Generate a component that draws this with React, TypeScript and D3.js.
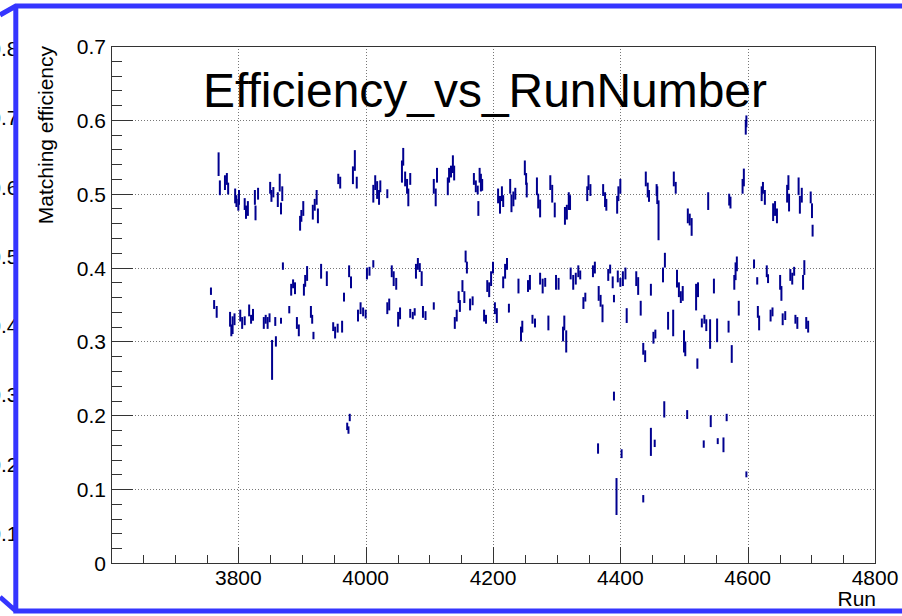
import React from "react";
import * as d3 from "d3";

// Each entry: [run number, matching efficiency, error]
const upperBand: [number, number, number][] = [
  [3769, 0.540, 0.016], [3771, 0.508, 0.010], [3779, 0.515, 0.010], [3782, 0.520, 0.008], [3784, 0.507, 0.008],
  [3795, 0.497, 0.010], [3797, 0.490, 0.008], [3800, 0.485, 0.008], [3801, 0.495, 0.010],
  [3810, 0.486, 0.008], [3812, 0.475, 0.009], [3815, 0.480, 0.010], [3826, 0.495, 0.010], [3827, 0.474, 0.010],
  [3831, 0.500, 0.008], [3850, 0.508, 0.008], [3852, 0.497, 0.008], [3855, 0.502, 0.007],
  [3862, 0.492, 0.010], [3865, 0.515, 0.012], [3867, 0.480, 0.008], [3869, 0.500, 0.010],
  [3897, 0.460, 0.010], [3899, 0.470, 0.008], [3902, 0.480, 0.010],
  [3917, 0.475, 0.010], [3920, 0.485, 0.008], [3923, 0.495, 0.010], [3925, 0.470, 0.010],
  [3957, 0.520, 0.007], [3960, 0.515, 0.008],
  [3980, 0.525, 0.012], [3983, 0.545, 0.014], [3986, 0.515, 0.008],
  [4012, 0.500, 0.012], [4015, 0.515, 0.010], [4018, 0.505, 0.012], [4021, 0.495, 0.010], [4023, 0.510, 0.008],
  [4034, 0.500, 0.006],
  [4057, 0.530, 0.015], [4059, 0.550, 0.012], [4062, 0.520, 0.010], [4065, 0.510, 0.010], [4067, 0.495, 0.012], [4070, 0.520, 0.008],
  [4107, 0.510, 0.010], [4110, 0.495, 0.012], [4112, 0.525, 0.010],
  [4129, 0.510, 0.012], [4131, 0.525, 0.010], [4134, 0.530, 0.008], [4137, 0.540, 0.012], [4139, 0.528, 0.010],
  [4170, 0.520, 0.008], [4173, 0.510, 0.008], [4176, 0.505, 0.006], [4177, 0.480, 0.010], [4179, 0.525, 0.010], [4181, 0.515, 0.012], [4183, 0.512, 0.008],
  [4208, 0.497, 0.010], [4211, 0.485, 0.012], [4214, 0.500, 0.010], [4216, 0.490, 0.008],
  [4227, 0.510, 0.010], [4229, 0.487, 0.012], [4232, 0.493, 0.010], [4235, 0.500, 0.008],
  [4250, 0.535, 0.010], [4252, 0.520, 0.008], [4253, 0.505, 0.010],
  [4269, 0.510, 0.012], [4271, 0.490, 0.010], [4274, 0.480, 0.012],
  [4290, 0.515, 0.010], [4293, 0.500, 0.012], [4297, 0.478, 0.010],
  [4313, 0.470, 0.012], [4316, 0.475, 0.010], [4319, 0.490, 0.012], [4321, 0.488, 0.010],
  [4348, 0.500, 0.010], [4350, 0.515, 0.010], [4353, 0.505, 0.008],
  [4373, 0.505, 0.008], [4376, 0.492, 0.010], [4378, 0.485, 0.008],
  [4395, 0.485, 0.012], [4397, 0.500, 0.010], [4400, 0.510, 0.010],
  [4440, 0.520, 0.010], [4443, 0.505, 0.010], [4445, 0.497, 0.008],
  [4457, 0.505, 0.008], [4458, 0.498, 0.012], [4460, 0.464, 0.027],
  [4484, 0.520, 0.010], [4487, 0.508, 0.008],
  [4506, 0.470, 0.010], [4509, 0.465, 0.008], [4512, 0.455, 0.012],
  [4538, 0.490, 0.012], [4571, 0.492, 0.008], [4573, 0.488, 0.008],
  [4592, 0.510, 0.010], [4594, 0.522, 0.012], [4597, 0.590, 0.010], [4598, 0.598, 0.008],
  [4622, 0.500, 0.010], [4624, 0.508, 0.008], [4627, 0.495, 0.010],
  [4640, 0.475, 0.012], [4643, 0.480, 0.010], [4646, 0.470, 0.010],
  [4662, 0.500, 0.012], [4664, 0.515, 0.010], [4665, 0.488, 0.012],
  [4680, 0.510, 0.012], [4682, 0.485, 0.012], [4685, 0.498, 0.010],
  [4699, 0.495, 0.008], [4701, 0.477, 0.010], [4702, 0.450, 0.008],
];

const lowerBand: [number, number, number][] = [
  [3757, 0.368, 0.005], [3762, 0.350, 0.006], [3766, 0.340, 0.008],
  [3787, 0.330, 0.010], [3789, 0.315, 0.008], [3791, 0.322, 0.012], [3794, 0.330, 0.008],
  [3803, 0.335, 0.008], [3806, 0.325, 0.008], [3810, 0.328, 0.006],
  [3817, 0.342, 0.008], [3820, 0.330, 0.006], [3823, 0.336, 0.008],
  [3840, 0.325, 0.008], [3843, 0.330, 0.006], [3846, 0.325, 0.008], [3849, 0.332, 0.006],
  [3853, 0.275, 0.027], [3858, 0.327, 0.006], [3859, 0.300, 0.007], [3867, 0.328, 0.004], [3870, 0.402, 0.005],
  [3880, 0.343, 0.005], [3883, 0.370, 0.008], [3886, 0.378, 0.006], [3889, 0.372, 0.008],
  [3892, 0.325, 0.008], [3895, 0.315, 0.008],
  [3903, 0.370, 0.008], [3905, 0.382, 0.008], [3908, 0.392, 0.010],
  [3914, 0.340, 0.008], [3916, 0.330, 0.006], [3918, 0.308, 0.005],
  [3930, 0.395, 0.010], [3939, 0.385, 0.010],
  [3949, 0.320, 0.006], [3952, 0.312, 0.008], [3956, 0.318, 0.006], [3963, 0.320, 0.008], [3966, 0.360, 0.006],
  [3974, 0.395, 0.008], [3977, 0.380, 0.008],
  [3988, 0.335, 0.008], [3992, 0.345, 0.008], [3996, 0.340, 0.006], [4000, 0.337, 0.006],
  [4002, 0.392, 0.008], [4006, 0.395, 0.006], [4012, 0.405, 0.005],
  [4034, 0.345, 0.008], [4037, 0.350, 0.008],
  [4041, 0.395, 0.008], [4044, 0.385, 0.010], [4048, 0.378, 0.008],
  [4051, 0.330, 0.010], [4054, 0.338, 0.008],
  [4070, 0.338, 0.006], [4074, 0.335, 0.005], [4077, 0.340, 0.005],
  [4079, 0.395, 0.010], [4082, 0.405, 0.008], [4085, 0.400, 0.006], [4088, 0.385, 0.010],
  [4090, 0.340, 0.008], [4094, 0.335, 0.006], [4107, 0.348, 0.005],
  [4140, 0.325, 0.008], [4143, 0.335, 0.008], [4146, 0.360, 0.008], [4148, 0.348, 0.008],
  [4152, 0.375, 0.008], [4155, 0.360, 0.008], [4157, 0.415, 0.008], [4159, 0.400, 0.008],
  [4164, 0.350, 0.008], [4168, 0.355, 0.006],
  [4186, 0.335, 0.008], [4189, 0.330, 0.006],
  [4191, 0.375, 0.008], [4194, 0.370, 0.010], [4197, 0.385, 0.010], [4200, 0.400, 0.008],
  [4203, 0.345, 0.008], [4206, 0.335, 0.010],
  [4216, 0.380, 0.008], [4219, 0.395, 0.010], [4222, 0.405, 0.008], [4225, 0.345, 0.006],
  [4240, 0.375, 0.010], [4244, 0.310, 0.010], [4246, 0.320, 0.008],
  [4255, 0.375, 0.008], [4258, 0.380, 0.010], [4262, 0.330, 0.006], [4266, 0.325, 0.006],
  [4274, 0.385, 0.008], [4278, 0.375, 0.010], [4282, 0.380, 0.006], [4287, 0.325, 0.010],
  [4299, 0.380, 0.010], [4303, 0.378, 0.008],
  [4310, 0.310, 0.010], [4312, 0.325, 0.010], [4315, 0.300, 0.015],
  [4322, 0.392, 0.008], [4326, 0.380, 0.010], [4330, 0.385, 0.008], [4334, 0.395, 0.008], [4337, 0.390, 0.006],
  [4342, 0.352, 0.008], [4345, 0.360, 0.006],
  [4357, 0.395, 0.008], [4360, 0.400, 0.008],
  [4366, 0.365, 0.010], [4369, 0.355, 0.008], [4372, 0.338, 0.012],
  [4381, 0.390, 0.008], [4384, 0.398, 0.006], [4388, 0.380, 0.008], [4390, 0.358, 0.005],
  [4396, 0.388, 0.008], [4400, 0.380, 0.006], [4404, 0.385, 0.010], [4408, 0.392, 0.008], [4410, 0.335, 0.010],
  [4425, 0.385, 0.010], [4428, 0.375, 0.012], [4432, 0.345, 0.010],
  [4436, 0.290, 0.008], [4439, 0.280, 0.008], [4448, 0.370, 0.008],
  [4452, 0.305, 0.008], [4455, 0.310, 0.006],
  [4467, 0.390, 0.010], [4470, 0.410, 0.010], [4475, 0.328, 0.012], [4483, 0.325, 0.018],
  [4489, 0.385, 0.012], [4492, 0.370, 0.010], [4495, 0.360, 0.008], [4498, 0.365, 0.010],
  [4500, 0.300, 0.015], [4502, 0.290, 0.010],
  [4519, 0.360, 0.018], [4521, 0.270, 0.007], [4522, 0.370, 0.010],
  [4528, 0.325, 0.006], [4532, 0.330, 0.006], [4535, 0.322, 0.008],
  [4541, 0.310, 0.020], [4547, 0.375, 0.010], [4552, 0.315, 0.016],
  [4570, 0.320, 0.008], [4575, 0.283, 0.012],
  [4579, 0.380, 0.010], [4581, 0.395, 0.012], [4583, 0.405, 0.010], [4586, 0.345, 0.010],
  [4610, 0.405, 0.006], [4615, 0.382, 0.005], [4616, 0.340, 0.008], [4618, 0.325, 0.010],
  [4630, 0.395, 0.008], [4632, 0.385, 0.006], [4636, 0.335, 0.008], [4639, 0.340, 0.006],
  [4651, 0.380, 0.010], [4653, 0.365, 0.010], [4655, 0.330, 0.008], [4659, 0.335, 0.006],
  [4667, 0.390, 0.008], [4670, 0.385, 0.008], [4673, 0.395, 0.006],
  [4675, 0.330, 0.006], [4678, 0.325, 0.008],
  [4687, 0.380, 0.010], [4689, 0.400, 0.010], [4692, 0.325, 0.008], [4695, 0.320, 0.008],
];

const lowOutliers: [number, number, number][] = [
  [3971, 0.185, 0.005], [3973, 0.180, 0.005], [3975, 0.197, 0.005],
  [4365, 0.155, 0.007], [4390, 0.226, 0.006], [4394, 0.090, 0.025], [4402, 0.148, 0.006],
  [4436, 0.087, 0.005], [4448, 0.164, 0.019], [4454, 0.162, 0.005], [4469, 0.208, 0.011],
  [4505, 0.201, 0.006], [4531, 0.161, 0.005], [4542, 0.192, 0.008], [4553, 0.165, 0.004],
  [4562, 0.160, 0.010], [4567, 0.197, 0.005], [4598, 0.120, 0.004],
];

const xMajorTicks = [3800, 4000, 4200, 4400, 4600, 4800];
const yMajorTicks = [0, 0.1, 0.2, 0.3, 0.4, 0.5, 0.6, 0.7];
const backLabels = ["0.8", "0.7", "0.6", "0.5", "0.4", "0.3", "0.2", "0.1"];

const W = 902;
const H = 616;
const FONT = "'Liberation Sans', Arial, Helvetica, sans-serif";

export default function App() {
  const left = 111, right = 875, top = 46, bottom = 563;
  const x = d3.scaleLinear().domain([3600, 4800]).range([left, right]);
  const y = d3.scaleLinear().domain([0, 0.7]).range([bottom, top]);

  const xMinor = d3.range(3650, 4800, 50).filter((v) => v % 200 !== 0);
  const yMinor = d3.range(0.02, 0.7, 0.02).filter((v) => Math.abs(v * 10 - Math.round(v * 10)) > 1e-6);

  const points = [...upperBand, ...lowerBand, ...lowOutliers];
  const backY = d3.scaleLinear().domain([0, 7]).range([56, 541]);

  return (
    <svg width={W} height={H} style={{ position: "absolute", left: 0, top: 0, display: "block" }} fontFamily={FONT}>
      <rect x={0} y={0} width={W} height={H} fill="#fff" />
      <defs>
        <clipPath id="backClip">
          <rect x={0} y={0} width={14} height={H} />
        </clipPath>
      </defs>
      {/* canvas behind, only its axis labels peek out */}
      <g clipPath="url(#backClip)" fontSize={21} fill="#000">
        {backLabels.map((t, i) => (
          <text key={t} x={18.5} y={backY(i)} textAnchor="end">{t}</text>
        ))}
      </g>

      {/* grid */}
      <g stroke="#777" strokeWidth={1} strokeDasharray="1 2">
        {xMajorTicks.slice(0, -1).map((v) => (
          <line key={"gx" + v} x1={Math.round(x(v)) + 0.5} x2={Math.round(x(v)) + 0.5} y1={top} y2={bottom} />
        ))}
        {yMajorTicks.slice(1, -1).map((v) => (
          <line key={"gy" + v} x1={left} x2={right} y1={Math.round(y(v)) + 0.5} y2={Math.round(y(v)) + 0.5} />
        ))}
      </g>

      {/* title */}
      <text x={203} y={107} fontSize={48} textLength={564} lengthAdjust="spacingAndGlyphs" fill="#000">
        Efficiency_vs_RunNumber
      </text>

      {/* error bars */}
      <g stroke="#00008f" strokeWidth={2}>
        {points.map(([run, eff, err], i) => (
          <line key={i} x1={x(run)} x2={x(run)} y1={y(eff - err)} y2={y(eff + err)} />
        ))}
      </g>

      {/* frame and ticks */}
      <rect x={left + 0.5} y={top + 0.5} width={right - left} height={bottom - top} fill="none" stroke="#333" strokeWidth={1} />
      <g stroke="#333" strokeWidth={1}>
        {yMajorTicks.map((v) => (
          <line key={"ty" + v} x1={left} x2={left + 22} y1={Math.round(y(v)) + 0.5} y2={Math.round(y(v)) + 0.5} />
        ))}
        {yMinor.map((v) => (
          <line key={"tym" + v} x1={left} x2={left + 11} y1={Math.round(y(v)) + 0.5} y2={Math.round(y(v)) + 0.5} />
        ))}
        {xMajorTicks.map((v) => (
          <line key={"tx" + v} x1={Math.round(x(v)) + 0.5} x2={Math.round(x(v)) + 0.5} y1={bottom} y2={bottom - 16} />
        ))}
        {xMinor.map((v) => (
          <line key={"txm" + v} x1={Math.round(x(v)) + 0.5} x2={Math.round(x(v)) + 0.5} y1={bottom} y2={bottom - 8} />
        ))}
      </g>

      {/* tick labels */}
      <g fontSize={21} fill="#000">
        {yMajorTicks.map((v) => (
          <text key={"ly" + v} x={106} y={y(v) + 8} textAnchor="end">{v === 0 ? "0" : d3.format(".1f")(v)}</text>
        ))}
        {xMajorTicks.map((v) => (
          <text key={"lx" + v} x={x(v)} y={585} textAnchor="middle">{v}</text>
        ))}
        <text x={876} y={606} textAnchor="end">Run</text>
        <text transform="translate(53,46) rotate(-90)" textAnchor="end">Matching efficiency</text>
      </g>

      {/* window border */}
      <path
        d="M0,15 L15.8,6 L902,6 M15.8,6 L15.8,611 L902,611 M0,597 L15.8,611"
        fill="none"
        stroke="#3535ff"
        strokeWidth={5}
        strokeLinejoin="miter"
      />
    </svg>
  );
}
